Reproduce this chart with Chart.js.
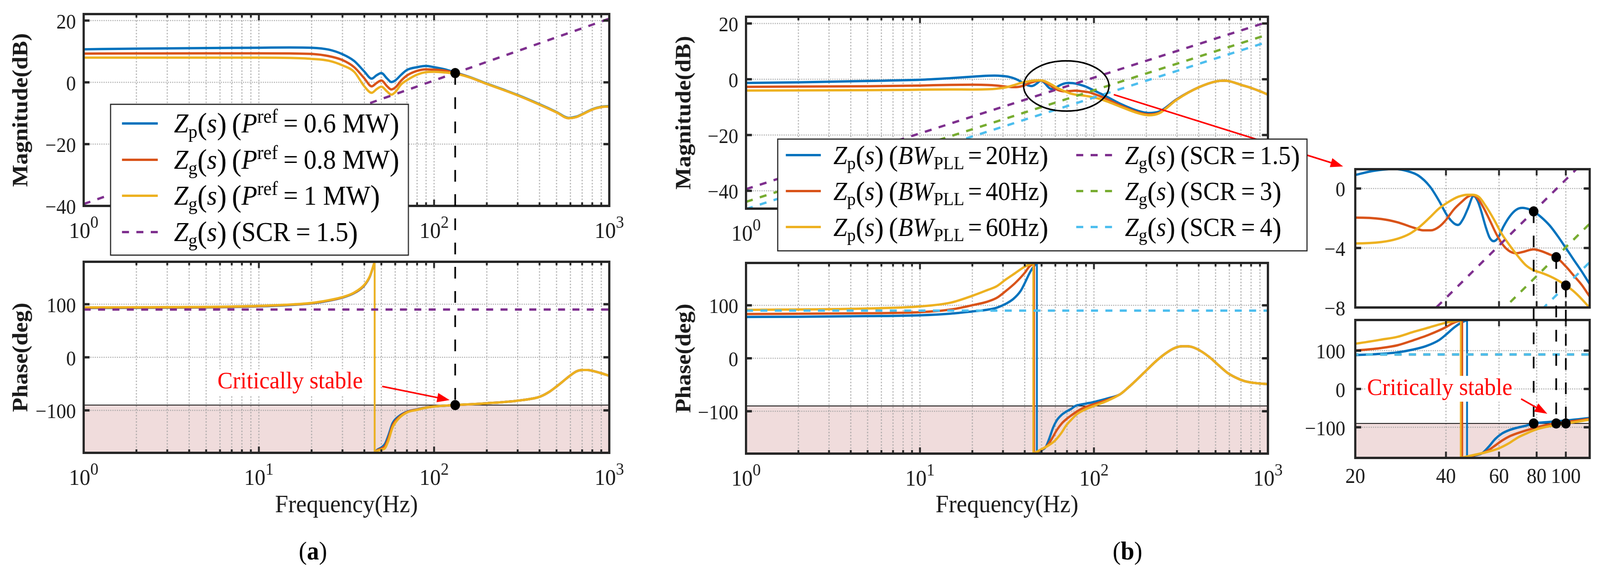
<!DOCTYPE html>
<html>
<head>
<meta charset="utf-8">
<script src="https://cdn.jsdelivr.net/npm/chart.js@4.4.1/dist/chart.umd.min.js"></script>
<style>
  html, body { margin: 0; padding: 0; background: #fff; overflow: hidden; }
  #fig { position: relative; background: #fff; }
  #fig canvas { position: absolute; left: 0; top: 0; }
</style>
</head>
<body>
<div id="fig"></div>
<script>
const W = 4341, H = 1464;
// the drawing buffer is always 4341x1464; it is stretched to whatever viewport we get
const VW = window.innerWidth > 100 ? window.innerWidth : W;
const VH = window.innerHeight > 100 ? window.innerHeight : H;
const FONT = '"Liberation Serif", "Times New Roman", serif';
const BLUE = '#0072BD', ORANGE = '#D95319', YELLOW = '#EDB120';
const PURPLE = '#7E2F8E', GREEN = '#77AC30', CYAN = '#4DBEEE';
const RED = '#ff0000', AXIS = '#262626', GRID = 'rgba(160,160,160,0.75)', SHADE = '#f0dcdc';
const DASH = [19, 20];

// ---------- (a) magnitude, P_ref sweep ----------
const freqA = [1, 2, 5, 10, 15, 20, 25, 30, 35, 40, 44, 47, 50, 54, 57, 60, 65, 70, 80, 90, 100, 115, 132];
const magA_p06 = [10.7, 10.9, 11.1, 11.2, 11.3, 11.2, 10.6, 9.1, 6.9, 3.5, 1.2, 2.3, 3.0, 1.2, 0.1, 0.6, 2.5, 4.0, 4.9, 5.3, 4.9, 4.2, 3.2];
const magA_p08 = [9.3, 9.35, 9.4, 9.4, 9.35, 9.2, 8.5, 7.2, 4.9, 1.3, -1.3, -0.2, 0.6, -1.3, -2.3, -1.7, 0.6, 2.2, 3.7, 4.2, 4.1, 3.8, 3.0];
const magA_p10 = [8.0, 8.0, 8.0, 8.0, 7.9, 7.6, 7.0, 5.5, 3.4, -1.3, -3.4, -2.2, -1.4, -3.0, -4.0, -3.2, -0.6, 0.7, 2.5, 3.3, 3.4, 3.2, 2.8];
const freqATail = [160, 200, 250, 300, 400, 500, 585, 650, 700, 800, 900, 1000];
const magATail = [1.6, -0.5, -2.5, -4.2, -7.2, -9.7, -11.6, -11.2, -10.4, -8.8, -8.0, -7.8];

// ---------- (a) phase ----------
const freqAPhLo = [1, 5, 10, 15, 20, 25, 30, 35, 40, 43, 45.8];
const phA_p06_lo = [93, 94, 96, 98.5, 101.5, 106.5, 112.5, 121, 135.5, 152, 180];
const phA_p08_lo = [93.5, 94.5, 96.5, 99, 102, 107, 113, 121.5, 136, 152.5, 180];
const phA_p10_lo = [94, 95, 97, 99.4, 102.5, 107.6, 113.4, 122, 136.7, 153, 180];
const freqAPhHi = [45.8, 47.5, 50, 52.5, 55, 58, 63, 70, 80, 90, 100, 132];
const phA_p06_hi = [-180, -174, -170, -163, -146, -124, -111, -102.5, -98, -94.5, -92.5, -90];
const phA_p08_hi = [-180, -175, -172, -167, -151, -128, -113, -103, -98.5, -94.7, -92.6, -90];
const phA_p10_hi = [-180, -176, -174, -171, -156, -132, -115, -104, -99, -95, -92.8, -90];
const freqAPhTail = [200, 300, 400, 450, 500, 550, 600, 650, 700, 750, 800, 900, 1000];
const phATail = [-86.6, -81.7, -74.4, -66, -55, -44, -34, -26.5, -24, -24, -25.5, -30, -35];

// ---------- (b) magnitude, PLL bandwidth sweep ----------
const freqB_bw20 = [1, 2, 5, 10, 15, 20, 22.9, 26.9, 29.7, 32.4, 35.3, 37.9, 40.3, 42.4, 43.9, 45.6, 47.3, 49.4, 50.9, 52.2, 54.2, 55.8, 57.6, 59.7, 62.0, 65.1, 68.4, 71.8, 75.4, 78.2, 83.2, 88.5, 94.0, 100, 106.3, 113.1, 120, 144, 180, 206, 237, 300];
const magB_bw20 = [-1.3, -1.1, -0.6, -0.2, 0.4, 0.91, 1.18, 1.31, 1.18, 0.87, 0.16, -0.81, -1.79, -2.32, -2.45, -2.05, -1.35, -0.50, -0.81, -1.43, -2.58, -3.29, -3.54, -3.29, -2.58, -1.88, -1.43, -1.30, -1.39, -1.54, -1.96, -2.50, -3.2, -4.0, -4.80, -5.6, -6.43, -9.0, -11.4, -12.1, -11.6, -7.1];
const freqB_bw40 = [1, 5, 10, 15, 20, 24.4, 27.6, 31.2, 33.6, 35.7, 37.9, 39.9, 42.4, 45.1, 47.3, 49.1, 50.9, 53.5, 56.2, 59.0, 62.0, 65.1, 68.4, 71.8, 78.2, 83.2, 88.5, 92.9, 100, 106.3, 113.1, 120, 144, 180, 206, 237, 300];
const magB_bw40 = [-2.7, -2.5, -2.25, -2.0, -1.96, -2.05, -2.27, -2.63, -2.81, -2.81, -2.58, -2.14, -1.43, -0.90, -0.55, -0.44, -0.65, -1.35, -2.23, -3.12, -3.82, -4.22, -4.35, -4.27, -4.09, -4.22, -4.44, -4.62, -5.24, -5.86, -6.5, -7.27, -9.6, -11.9, -12.6, -12.0, -7.2];
const freqB_bw60 = [1, 5, 10, 15, 20, 24.4, 27.6, 30.4, 32.7, 35.3, 37.9, 40.8, 44.0, 47.3, 49.1, 51.6, 54.2, 57.6, 61.2, 65.1, 69.2, 73.6, 78.2, 83.2, 88.5, 94.0, 100, 106.3, 113.1, 120, 144, 180, 206, 237, 300];
const magB_bw60 = [-4.06, -3.9, -3.75, -3.65, -3.69, -3.60, -3.38, -3.03, -2.58, -1.96, -1.35, -0.90, -0.55, -0.42, -0.42, -0.59, -1.17, -2.05, -3.03, -3.82, -4.53, -5.15, -5.50, -5.68, -5.90, -6.17, -6.52, -6.92, -7.45, -8.03, -10.0, -12.2, -12.9, -12.2, -7.3];
const freqBTail = [400, 500, 560, 600, 700, 800, 900, 1000];
const magBTail = [-2.9, -0.8, -0.5, -0.7, -2.0, -3.1, -4.3, -5.5];

// ---------- (b) phase ----------
const freqBPh_bw20_lo = [1, 2, 5, 10, 15, 20, 24.4, 27.6, 31.2, 34.4, 37.9, 40.3, 42.4, 44.5, 47.0];
const phB_bw20_lo = [78, 78.4, 79.6, 81.2, 84.3, 88.4, 91.7, 95.5, 103, 112, 127.2, 144, 159.2, 171, 180];
const freqBPh_bw20_hi = [47.0, 49.7, 52.8, 55.5, 58.3, 61.2, 65.1, 69.2, 73.6, 78.2, 88.5, 100, 120];
const phB_bw20_hi = [-180, -174, -167.5, -150.5, -130.5, -117, -107, -100.8, -96, -90, -86, -82.5, -75.8];
const freqBPh_bw40_lo = [1, 5, 10, 15, 20, 24.4, 27.6, 31.2, 35.3, 39.9, 42.4, 45.3];
const phB_bw40_lo = [83.5, 85, 87, 92, 100.2, 106.9, 114, 127.2, 142.3, 160.9, 172.7, 180];
const freqBPh_bw40_hi = [45.3, 50.9, 54.2, 57.6, 61.2, 65.1, 69.2, 73.6, 80.2, 86.3, 92.9, 100, 120];
const phB_bw40_hi = [-180, -171, -164, -150.5, -135.5, -123.5, -115.3, -108.5, -100, -94, -90, -86.5, -78];
const freqBPh_bw60_lo = [1, 5, 10, 15, 20, 24.4, 27.6, 31.2, 35.3, 39.9, 44.8];
const phB_bw60_lo = [91.3, 94, 97.9, 105, 118, 128.8, 136, 149, 160.9, 172.7, 180];
const freqBPh_bw60_hi = [44.8, 49.7, 54.2, 59.7, 65.1, 69.2, 73.6, 80.2, 88.5, 100, 120];
const phB_bw60_hi = [-180, -172, -165.5, -155.5, -140.5, -127, -117, -105, -97, -90, -80];
const freqBPhTail = [141.4, 157, 179, 201, 226, 255, 287, 322, 346, 390, 460, 517, 581, 654, 736, 830, 1000];
const phBTail = [-67.9, -55.6, -38.3, -22.2, -6.2, 7.9, 18.5, 22.7, 22.7, 17.8, 2.5, -12.3, -26.7, -36.5, -43.2, -46.4, -48.9];

// ---------- grid impedance Zg(s) ----------
const freqZg = [1, 1000];
const zgScr15 = [-39.4, 20.6];
const zgScr3 = [-43.95, 16.05];
const zgScr4 = [-46.54, 13.46];
const phZg = [90, 90];

// crossing points
const aDotF = [132], aDotMag = [3.0], aDotPh = [-90];
const bDotF = [78.2, 92.9, 100], bDotMag = [-1.54, -4.62, -6.52], bDotPh = [-90, -90, -90];

// ticks
const decTicks = [1, 10, 100, 1000];
const minorTicks = [2, 3, 4, 5, 6, 7, 8, 9, 20, 30, 40, 50, 60, 70, 80, 90, 200, 300, 400, 500, 600, 700, 800, 900];
const insetTicks = [40, 60, 80, 100];
const insetLabels = [20, 40, 60, 80, 100];
const magTicks = [20, 0, -20, -40];
const phaseTicks = [100, 0, -100];
const insetMagTicks = [0, -4, -8];

// legend text
const legendPowerA = ['0.6 MW', '0.8 MW', '1 MW'];
const legendSubA = ['p', 'g', 'g'];
const legendBw = ['20Hz', '40Hz', '60Hz'];
const legendScr = ['1.5', '3', '4'];

// ---------- helpers ----------
const charts = {};
const pts = (fs, vs) => fs.map((f, i) => ({ x: f, y: vs[i] }));
const withJump = (loF, lo, hiF, hi) => pts(loF, lo).concat([{ x: loF[loF.length - 1], y: null }], pts(hiF, hi));

function solid(data, color, order) {
  return { data, borderColor: color, borderWidth: 6, pointRadius: 0, fill: false,
           cubicInterpolationMode: 'monotone', order };
}
function dashed(data, color, order) {
  return { data, borderColor: color, borderWidth: 6, borderDash: DASH, pointRadius: 0, fill: false, order };
}
function jump(f, color, order) {
  return { data: [{ x: f, y: 180 }, { x: f, y: -180 }], borderColor: color, borderWidth: 5, pointRadius: 0, order };
}
function dots(data) {
  return { data, showLine: false, pointRadius: 13, pointBackgroundColor: '#000', pointBorderWidth: 0, order: -1 };
}
function seg(ctx, x1, y1, x2, y2) { ctx.beginPath(); ctx.moveTo(x1, y1); ctx.lineTo(x2, y2); ctx.stroke(); }
const fmt = v => (v < 0 ? '\u2212' + Math.abs(v) : String(v));

function framePlugin(cfg) {
  return {
    id: 'frame',
    beforeDatasetsDraw(chart) {
      const { ctx, chartArea: a } = chart;
      const xs = chart.scales.x, ys = chart.scales.y;
      ctx.save();
      if (cfg.shade) {
        const yq = ys.getPixelForValue(-90);
        ctx.fillStyle = SHADE;
        ctx.fillRect(a.left, yq, a.right - a.left, a.bottom - yq);
      }
      ctx.strokeStyle = GRID;
      ctx.lineWidth = 3;
      ctx.setLineDash([4, 4]);
      cfg.xGrid.forEach(v => { const px = xs.getPixelForValue(v); seg(ctx, px, a.top, px, a.bottom); });
      ctx.setLineDash([3, 3]);
      cfg.yTicks.forEach(v => { const py = ys.getPixelForValue(v); seg(ctx, a.left, py, a.right, py); });
      ctx.setLineDash([]);
      if (cfg.shade) {
        ctx.strokeStyle = '#000';
        ctx.lineWidth = 2;
        const yq = ys.getPixelForValue(-90);
        seg(ctx, a.left, yq, a.right, yq);
      }
      ctx.restore();
    },
    afterDatasetsDraw(chart) {
      const { ctx, chartArea: a } = chart;
      const xs = chart.scales.x, ys = chart.scales.y;
      ctx.save();
      ctx.strokeStyle = AXIS;
      ctx.lineWidth = 6;
      ctx.strokeRect(a.left, a.top, a.right - a.left, a.bottom - a.top);
      ctx.lineWidth = 5;
      cfg.xMajor.forEach(v => {
        const px = xs.getPixelForValue(v);
        seg(ctx, px, a.bottom, px, a.bottom - 16); seg(ctx, px, a.top, px, a.top + 16);
      });
      cfg.xMinor.forEach(v => {
        const px = xs.getPixelForValue(v);
        seg(ctx, px, a.bottom, px, a.bottom - 9); seg(ctx, px, a.top, px, a.top + 9);
      });
      ctx.lineWidth = 6;
      cfg.yTicks.forEach(v => {
        const py = ys.getPixelForValue(v);
        seg(ctx, a.left, py, a.left + 16, py); seg(ctx, a.right, py, a.right - 16, py);
      });

      ctx.fillStyle = '#1a1a1a';
      ctx.textBaseline = 'alphabetic';
      ctx.font = '53px ' + FONT;
      ctx.textAlign = 'right';
      cfg.yTicks.forEach(v => ctx.fillText(fmt(v), a.left - cfg.yGap, ys.getPixelForValue(v) + 20));

      if (cfg.xLabels === 'pow') {
        ctx.textAlign = 'left';
        decTicks.forEach((v, i) => {
          const px = xs.getPixelForValue(v);
          ctx.font = '58px ' + FONT;
          const w1 = ctx.measureText('10').width;
          ctx.font = '44px ' + FONT;
          const w2 = ctx.measureText(String(i)).width;
          const x0 = px - (w1 + w2) / 2;
          ctx.font = '58px ' + FONT;
          ctx.fillText('10', x0, a.bottom + 82);
          ctx.font = '44px ' + FONT;
          ctx.fillText(String(i), x0 + w1, a.bottom + 56);
        });
      } else if (cfg.xLabels === 'plain') {
        ctx.textAlign = 'center';
        ctx.font = '54px ' + FONT;
        insetLabels.forEach(v => ctx.fillText(String(v), xs.getPixelForValue(v), a.bottom + 64));
      }
      if (cfg.xTitle) {
        ctx.textAlign = 'center';
        ctx.font = '64px ' + FONT;
        ctx.fillText(cfg.xTitle, (a.left + a.right) / 2, 1311);
      }
      if (cfg.yTitle) {
        ctx.save();
        ctx.translate(cfg.yTitleX, (a.top + a.bottom) / 2);
        ctx.rotate(-Math.PI / 2);
        ctx.textAlign = 'center';
        ctx.textBaseline = 'middle';
        ctx.font = 'bold 60px ' + FONT;
        ctx.fillText(cfg.yTitle, 0, 0);
        ctx.restore();
      }
      ctx.restore();
    }
  };
}

const fig = document.getElementById('fig');
fig.style.width = VW + 'px';
fig.style.height = VH + 'px';

function makeChart(name, area, xr, yr, datasets, cfg, extra) {
  const cv = document.createElement('canvas');
  cv.width = W; cv.height = H;
  cv.style.width = VW + 'px';
  cv.style.height = VH + 'px';
  fig.appendChild(cv);
  charts[name] = new Chart(cv, {
    type: 'line',
    data: { datasets },
    options: {
      animation: false, responsive: false, devicePixelRatio: 1, events: [],
      layout: { autoPadding: false, padding: { left: area[0], top: area[1], right: W - area[2], bottom: H - area[3] } },
      plugins: { legend: { display: false }, tooltip: { enabled: false } },
      scales: {
        x: { type: 'logarithmic', min: xr[0], max: xr[1], display: false },
        y: { type: 'linear', min: yr[0], max: yr[1], display: false }
      }
    },
    plugins: [framePlugin(cfg)].concat(extra || [])
  });
}

// ---------- rich text for legends ----------
const it = t => ({ t, i: true });
const rm = t => ({ t });
const sub = t => ({ t, s: 0.7, dy: 0.2 });
const sup = t => ({ t, s: 0.72, dy: -0.36 });
const lp = { t: '(', s: 1.12, dy: 0.06 }, rp = { t: ')', s: 1.12, dy: 0.06 };
const gap = g => ({ gap: g });
const zOf = s => [it('Z'), sub(s), lp, it('s'), rp, gap(0.2), lp];

function rich(ctx, segs, x, y, size, measureOnly) {
  let cx = x;
  segs.forEach(s => {
    if (s.gap) { cx += s.gap * size; return; }
    const fs = size * (s.s || 1);
    ctx.font = (s.i ? 'italic ' : '') + (s.b ? 'bold ' : '') + fs + 'px ' + FONT;
    if (!measureOnly) ctx.fillText(s.t, cx, y + (s.dy || 0) * size);
    cx += ctx.measureText(s.t).width;
  });
  return cx - x;
}
function sample(ctx, x1, x2, y, color, dash) {
  ctx.strokeStyle = color; ctx.lineWidth = 6; ctx.setLineDash(dash || []);
  seg(ctx, x1, y, x2, y); ctx.setLineDash([]);
}
function legendBox(ctx, l, t, r, b) {
  ctx.fillStyle = '#fff'; ctx.fillRect(l, t, r - l, b - t);
  ctx.strokeStyle = AXIS; ctx.lineWidth = 3; ctx.strokeRect(l, t, r - l, b - t);
}
function arrow(ctx, x1, y1, x2, y2) {
  const ang = Math.atan2(y2 - y1, x2 - x1), hl = 34, hw = 12;
  const bx = x2 - hl * Math.cos(ang), by = y2 - hl * Math.sin(ang);
  ctx.strokeStyle = RED; ctx.fillStyle = RED; ctx.lineWidth = 4;
  seg(ctx, x1, y1, bx + 4 * Math.cos(ang), by + 4 * Math.sin(ang));
  ctx.beginPath(); ctx.moveTo(x2, y2);
  ctx.lineTo(bx + hw * Math.sin(ang), by - hw * Math.cos(ang));
  ctx.lineTo(bx - hw * Math.sin(ang), by + hw * Math.cos(ang));
  ctx.closePath(); ctx.fill();
}
function labelText(ctx, text, x, base) {
  ctx.font = '62px ' + FONT;
  const w = ctx.measureText(text).width;
  ctx.fillStyle = '#fff';
  ctx.fillRect(x - 5, base - 49, w + 10, 66);
  ctx.fillStyle = RED;
  ctx.textAlign = 'left';
  ctx.fillText(text, x, base);
}
function dashedV(ctx, x, y1, y2) {
  ctx.strokeStyle = '#000'; ctx.lineWidth = 4.5; ctx.setLineDash([30, 32]);
  seg(ctx, x, y1, x, y2); ctx.setLineDash([]);
}

const overlay = {
  id: 'overlay',
  afterDraw(chart) {
    const ctx = chart.ctx;
    const aM = charts.aMag, aP = charts.aPhase, bM = charts.bMag, iM = charts.insetMag, iP = chart;
    ctx.save();
    ctx.textBaseline = 'alphabetic';

    // connectors from magnitude crossing down to phase
    dashedV(ctx, aM.scales.x.getPixelForValue(aDotF[0]), aM.scales.y.getPixelForValue(aDotMag[0]), aP.scales.y.getPixelForValue(aDotPh[0]));
    bDotF.forEach((f, i) => dashedV(ctx, iM.scales.x.getPixelForValue(f), iM.scales.y.getPixelForValue(bDotMag[i]), iP.scales.y.getPixelForValue(bDotPh[i])));

    // zoom ellipse on (b) and arrow to inset
    const ex1 = bM.scales.x.getPixelForValue(39.4), ex2 = bM.scales.x.getPixelForValue(122);
    const ey1 = bM.scales.y.getPixelForValue(6.6), ey2 = bM.scales.y.getPixelForValue(-11.4);
    ctx.strokeStyle = '#000'; ctx.lineWidth = 4;
    ctx.beginPath();
    ctx.ellipse((ex1 + ex2) / 2, (ey1 + ey2) / 2, (ex2 - ex1) / 2, (ey2 - ey1) / 2, 0, 0, Math.PI * 2);
    ctx.stroke();
    const ia = iM.chartArea;
    arrow(ctx, bM.scales.x.getPixelForValue(130), bM.scales.y.getPixelForValue(-5.5), ia.left - 33, ia.top - 7);

    // legend (a)
    legendBox(ctx, 300, 267, 1108, 653);
    const rowsA = [316, 409, 501, 594];
    const colA = [BLUE, ORANGE, YELLOW];
    ctx.textAlign = 'left';
    rowsA.forEach((y, i) => {
      if (i < 3) {
        sample(ctx, 331, 428, y, colA[i]);
        ctx.fillStyle = '#000';
        rich(ctx, zOf(legendSubA[i]).concat([it('P'), sup('ref'), gap(0.22), rm('='), gap(0.22), rm(legendPowerA[i]), rp]), 472, y + 23, 70);
      } else {
        sample(ctx, 331, 428, y, PURPLE, DASH);
        ctx.fillStyle = '#000';
        rich(ctx, zOf('g').concat([rm('SCR'), gap(0.22), rm('='), gap(0.22), rm(legendScr[0]), rp]), 472, y + 23, 70);
      }
    });

    // legend (b)
    legendBox(ctx, 2110, 356, 3546, 642);
    const rowsB = [397, 489, 581];
    const colB1 = [BLUE, ORANGE, YELLOW], colB2 = [PURPLE, GREEN, CYAN];
    rowsB.forEach((y, i) => {
      sample(ctx, 2132, 2227, y, colB1[i]);
      ctx.fillStyle = '#000';
      rich(ctx, zOf('p').concat([it('BW'), sub('PLL'), gap(0.15), rm('='), gap(0.15), rm(legendBw[i]), rp]), 2261, y + 23, 67);
      sample(ctx, 2920, 3017, y, colB2[i], DASH);
      ctx.fillStyle = '#000';
      rich(ctx, zOf('g').concat([rm('SCR'), gap(0.2), rm('='), gap(0.2), rm(legendScr[i]), rp]), 3052, y + 23, 67);
    });

    // annotations
    labelText(ctx, 'Critically stable', 590, 994);
    arrow(ctx, 1037, 989, 1220, 1024);
    labelText(ctx, 'Critically stable', 3709, 1011);
    arrow(ctx, 4127, 1021, 4198, 1059);

    // sub-figure captions
    ctx.fillStyle = '#000';
    [['a', 849], ['b', 3059]].forEach(([c, cx]) => {
      const segs = [{ t: '(' }, { t: c, b: true }, { t: ')' }];
      const w = rich(ctx, segs, 0, 0, 66, true);
      rich(ctx, segs, cx - w / 2, 1432, 66);
    });
    ctx.restore();
  }
};

// ---------- build the six axes ----------
const mainGrid = decTicks.concat(minorTicks);

makeChart('aMag', [227, 36, 1653, 527], [1, 1000], [-40, 22.1], [
  dots(pts(aDotF, aDotMag)),
  dashed(pts(freqZg, zgScr15), PURPLE, 0),
  solid(pts(freqA, magA_p10).concat(pts(freqATail, magATail)), YELLOW, 1),
  solid(pts(freqA, magA_p08).concat(pts(freqATail, magATail)), ORANGE, 2),
  solid(pts(freqA, magA_p06).concat(pts(freqATail, magATail.map(v => v + 0.1))), BLUE, 3)
], { xGrid: mainGrid, xMajor: decTicks, xMinor: minorTicks, yTicks: magTicks, yGap: 21,
     xLabels: 'pow', yTitle: 'Magnitude(dB)', yTitleX: 58 });

makeChart('aPhase', [227, 670, 1653, 1159], [1, 1000], [-180, 180], [
  dots(pts(aDotF, aDotPh)),
  dashed(pts(freqZg, phZg), PURPLE, 0),
  solid(withJump(freqAPhLo, phA_p10_lo, freqAPhHi, phA_p10_hi).concat(pts(freqAPhTail, phATail)), YELLOW, 1),
  jump(freqAPhLo[freqAPhLo.length - 1], YELLOW, 1),
  solid(withJump(freqAPhLo, phA_p08_lo, freqAPhHi, phA_p08_hi).concat(pts(freqAPhTail, phATail)), ORANGE, 2),
  solid(withJump(freqAPhLo, phA_p06_lo, freqAPhHi, phA_p06_hi).concat(pts(freqAPhTail, phATail)), BLUE, 3),
  jump(freqAPhLo[freqAPhLo.length - 1], BLUE, 3)
], { xGrid: mainGrid, xMajor: decTicks, xMinor: minorTicks, yTicks: phaseTicks, yGap: 21, shade: true,
     xLabels: 'pow', xTitle: 'Frequency(Hz)', yTitle: 'Phase(deg)', yTitleX: 58 });

const magB = [
  dashed(pts(freqZg, zgScr4), CYAN, 0),
  dashed(pts(freqZg, zgScr3), GREEN, 0.3),
  dashed(pts(freqZg, zgScr15), PURPLE, 0.6),
  solid(pts(freqB_bw60, magB_bw60).concat(pts(freqBTail, magBTail)), YELLOW, 1),
  solid(pts(freqB_bw40, magB_bw40).concat(pts(freqBTail, magBTail)), ORANGE, 2),
  solid(pts(freqB_bw20, magB_bw20).concat(pts(freqBTail, magBTail)), BLUE, 3)
];
const phB = [
  dashed(pts(freqZg, phZg), CYAN, 0),
  dashed(pts(freqZg, phZg), GREEN, 0.3),
  dashed(pts(freqZg, phZg), PURPLE, 0.6),
  solid(withJump(freqBPh_bw60_lo, phB_bw60_lo, freqBPh_bw60_hi, phB_bw60_hi).concat(pts(freqBPhTail, phBTail)), YELLOW, 1),
  jump(freqBPh_bw60_lo[freqBPh_bw60_lo.length - 1], YELLOW, 1),
  solid(withJump(freqBPh_bw40_lo, phB_bw40_lo, freqBPh_bw40_hi, phB_bw40_hi).concat(pts(freqBPhTail, phBTail)), ORANGE, 2),
  jump(freqBPh_bw40_lo[freqBPh_bw40_lo.length - 1], ORANGE, 2),
  solid(withJump(freqBPh_bw20_lo, phB_bw20_lo, freqBPh_bw20_hi, phB_bw20_hi).concat(pts(freqBPhTail, phBTail)), BLUE, 3),
  jump(freqBPh_bw20_lo[freqBPh_bw20_lo.length - 1], BLUE, 3)
];

makeChart('bMag', [2024, 43, 3440, 534], [1, 1000], [-46.4, 22.4], magB,
  { xGrid: mainGrid, xMajor: decTicks, xMinor: minorTicks, yTicks: magTicks, yGap: 21,
    xLabels: 'pow', yTitle: 'Magnitude(dB)', yTitleX: 1857 });

makeChart('bPhase', [2024, 673, 3440, 1161], [1, 1000], [-180, 180], phB,
  { xGrid: mainGrid, xMajor: decTicks, xMinor: minorTicks, yTicks: phaseTicks, yGap: 21, shade: true,
    xLabels: 'pow', xTitle: 'Frequency(Hz)', yTitle: 'Phase(deg)', yTitleX: 1857 });

makeChart('insetMag', [3677, 433, 4313, 787], [20, 120], [-8, 1.3],
  [dots(pts(bDotF, bDotMag))].concat(magB),
  { xGrid: insetTicks, xMajor: insetTicks, xMinor: [], yTicks: insetMagTicks, yGap: 27 });

makeChart('insetPhase', [3677, 819, 4313, 1172], [20, 120], [-180, 180],
  [dots(pts(bDotF, bDotPh))].concat(phB),
  { xGrid: insetTicks, xMajor: insetTicks, xMinor: [], yTicks: phaseTicks, yGap: 27, shade: true, xLabels: 'plain' },
  [overlay]);
</script>
</body>
</html>
